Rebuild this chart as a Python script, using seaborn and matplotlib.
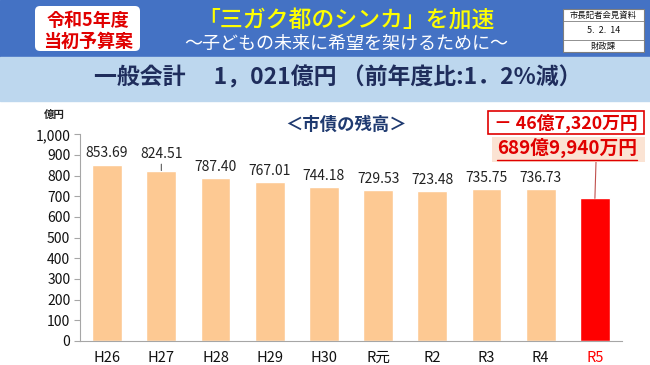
import matplotlib
matplotlib.use("Agg")
import matplotlib.pyplot as plt
from matplotlib.patches import Rectangle, FancyBboxPatch
import seaborn as sns
import pandas as pd

# データ（億円）
years = ["H26", "H27", "H28", "H29", "H30", "R元", "R2", "R3", "R4", "R5"]
balance = [853.69, 824.51, 787.40, 767.01, 744.18, 729.53, 723.48, 735.75, 736.73, 689.994]
value_labels = ["853.69", "824.51", "787.40", "767.01", "744.18", "729.53", "723.48", "735.75", "736.73", ""]
y_ticks = [0, 100, 200, 300, 400, 500, 600, 700, 800, 900, 1000]
y_tick_labels = ["0", "100", "200", "300", "400", "500", "600", "700", "800", "900", "1,000"]
change_text = "－ 46億7,320万円"
latest_text = "689億9,940万円"

sns.set_theme(style="white")
plt.rcParams["font.family"] = ["Noto Sans CJK JP", "DejaVu Sans"]

peach = "#FDC993"
red = "#FF0000"
navy = "#1F3A70"
colors = [peach] * (len(years) - 1) + [red]

fig = plt.figure(figsize=(6.5, 3.65), dpi=100)
fig.patch.set_facecolor("white")

# グラフ本体
ax = fig.add_axes([80 / 650, 24 / 365, 542 / 650, 206.7 / 365])
ax.set_facecolor("none")
df = pd.DataFrame({"year": years, "value": balance})
sns.barplot(data=df, x="year", y="value", hue="year", palette=colors,
            legend=False, width=0.55, ax=ax, saturation=1)

ax.set_ylim(0, 1000)
ax.set_xlim(-0.5, len(years) - 0.5)
ax.set_yticks(y_ticks)
ax.set_yticklabels(y_tick_labels, fontsize=10, color="#111111")
ax.set_xticks(range(len(years)))
ax.set_xticklabels(years, fontsize=10.5, color="#111111")
ax.get_xticklabels()[-1].set_color(red)
ax.set_xticks([i - 0.5 for i in range(len(years) + 1)], minor=True)
ax.tick_params(axis="x", which="major", length=0, pad=7)
ax.tick_params(axis="x", which="minor", length=4, color="#A6A6A6", width=0.8, direction="out")
ax.tick_params(axis="y", length=4, color="#A6A6A6", width=0.8, direction="out", pad=3, left=True)
ax.set_xlabel("")
ax.set_ylabel("")
for s in ["top", "right"]:
    ax.spines[s].set_visible(False)
for s in ["left", "bottom"]:
    ax.spines[s].set_color("#A6A6A6")
    ax.spines[s].set_linewidth(0.8)

for i, (v, lab) in enumerate(zip(balance, value_labels)):
    if not lab:
        continue
    if years[i] == "H27":
        ax.annotate(lab, xy=(i, v), xytext=(0, 7), textcoords="offset points",
                    ha="center", va="bottom", fontsize=10, color="#222222",
                    arrowprops=dict(arrowstyle="-", color="#444444", lw=0.7,
                                    shrinkA=0, shrinkB=0))
    else:
        ax.annotate(lab, xy=(i, v), xytext=(0, 3), textcoords="offset points",
                    ha="center", va="bottom", fontsize=10, color="#222222")

fig.text(54 / 650, 1 - 115 / 365, "億円", ha="center", va="center",
         fontsize=7.5, fontweight="bold", color="#222222")

# 重ね描き用（ピクセル座標）
ov = fig.add_axes([0, 0, 1, 1], zorder=5)
ov.set_xlim(0, 650)
ov.set_ylim(365, 0)
ov.axis("off")
ov.set_facecolor("none")

# ヘッダー
ov.add_patch(Rectangle((0, 0), 650, 57, color="#4472C4", zorder=0))
ov.add_patch(Rectangle((0, 57), 650, 44, color="#BDD7EE", zorder=0))
ov.add_patch(FancyBboxPatch((35, 6), 105, 45, boxstyle="round,pad=0,rounding_size=5",
                            fc="white", ec="none", zorder=1))
ov.text(88, 21, "令和5年度", ha="center", va="center", fontsize=13,
        fontweight="bold", color="#E00000", zorder=2)
ov.text(88, 41, "当初予算案", ha="center", va="center", fontsize=13,
        fontweight="bold", color="#E00000", zorder=2)
ov.text(346, 20, "「三ガク都のシンカ」を加速", ha="center", va="center",
        fontsize=16.5, color="#FFFF00", fontweight="medium")
ov.text(346, 44, "～子どもの未来に希望を架けるために～", ha="center", va="center",
        fontsize=13, color="white")

# 右上の表
ov.add_patch(Rectangle((563, 9), 81, 43, fc="white", ec="#7F7F7F", lw=0.8, zorder=1))
ov.plot([563, 644], [21, 21], color="#7F7F7F", lw=0.6, zorder=2)
ov.plot([563, 644], [40, 40], color="#7F7F7F", lw=0.6, zorder=2)
ov.text(603.5, 15, "市長記者会見資料", ha="center", va="center", fontsize=6, color="#111111")
ov.text(603.5, 30.5, "5.  2.  14", ha="center", va="center", fontsize=6.5, color="#111111")
ov.text(603.5, 46, "財政課", ha="center", va="center", fontsize=6, color="#111111")

ov.text(94, 78, "一般会計　 1，021億円 （前年度比:1．2%減）", ha="left", va="center",
        fontsize=16.5, fontweight="bold", color="#1F2D5C")

# グラフタイトル
ov.text(346, 125, "＜市債の残高＞", ha="center", va="center", fontsize=12.5,
        fontweight="bold", color=navy)

# 注記ボックス
ov.add_patch(Rectangle((488, 111), 156, 23, fc="white", ec="#E00000", lw=1.2, zorder=3))
ov.text(566, 122.5, change_text, ha="center", va="center", fontsize=12.8,
        fontweight="bold", color="#E00000", zorder=4)
ov.add_patch(Rectangle((492, 137), 153, 25, fc="#FBE3D3", ec="none", zorder=3))
ov.text(567, 148, latest_text, ha="center", va="center", fontsize=13.5,
        fontweight="bold", color="#E00000", zorder=4)
ov.plot([497, 637], [159.5, 159.5], color="#E00000", lw=1.0, zorder=4)

# R5 の棒と注記を結ぶ線
ax.annotate("", xy=(len(years) - 1, balance[-1]), xycoords="data",
            xytext=(596, 162), textcoords=ov.transData,
            arrowprops=dict(arrowstyle="-", color="#C0504D", lw=0.8,
                            shrinkA=0, shrinkB=0))

fig.savefig("out.png", dpi=100)
